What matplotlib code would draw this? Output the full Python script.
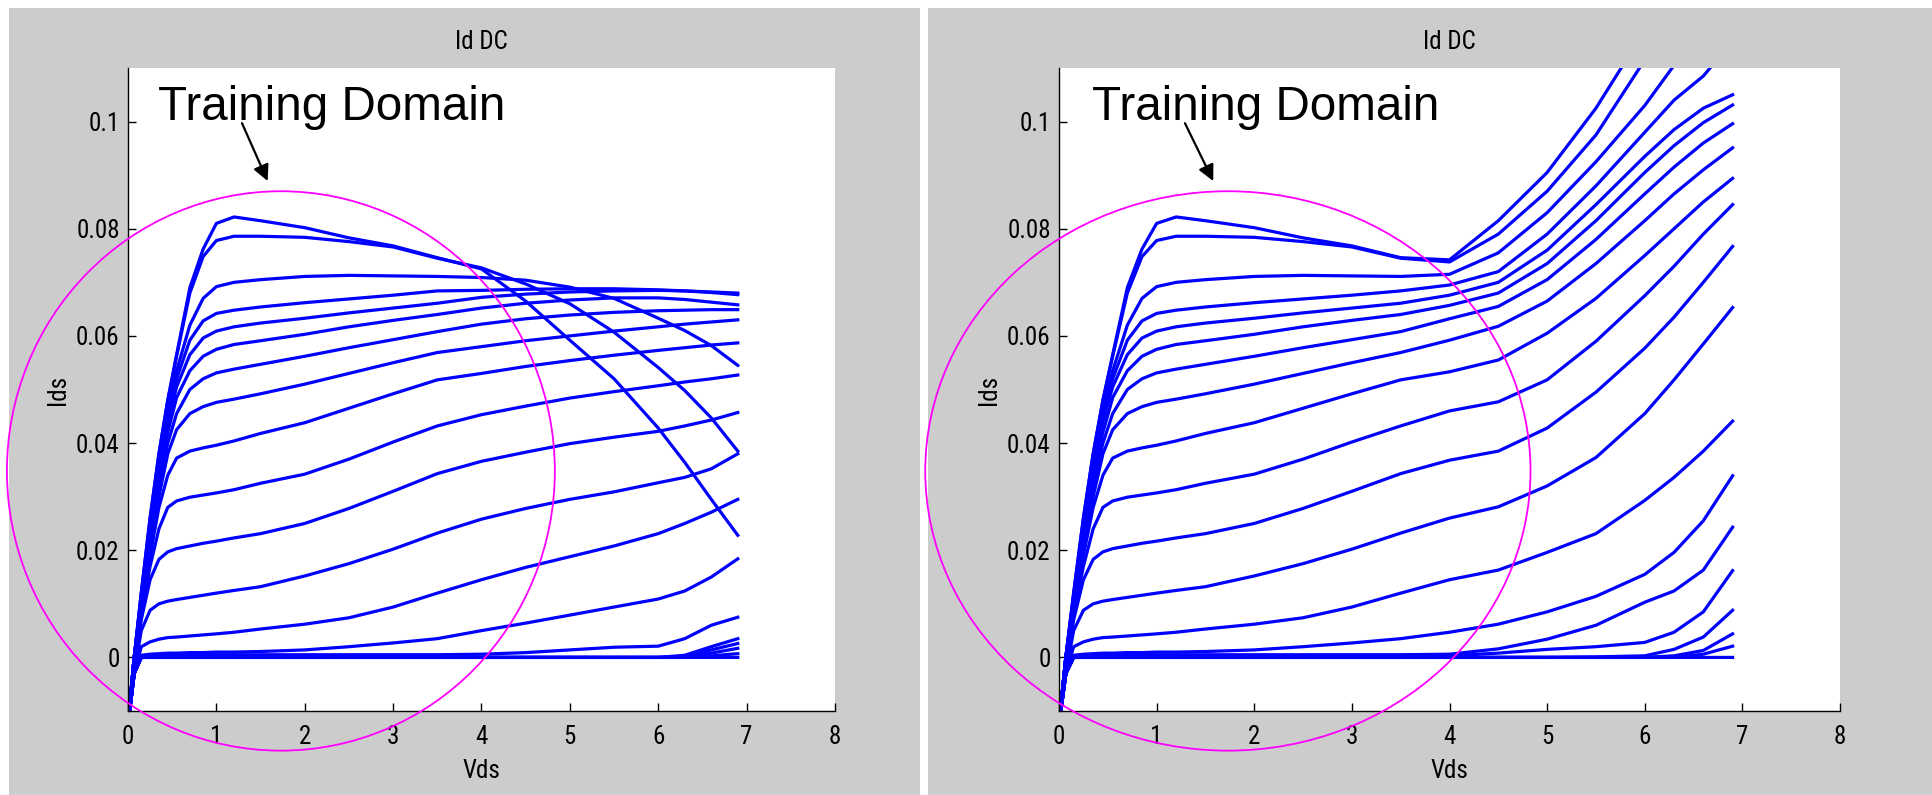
import matplotlib
matplotlib.use("Agg")
import numpy as np
import matplotlib.pyplot as plt
from matplotlib import font_manager
from matplotlib.patches import Ellipse, Rectangle

# Vds grid shared by both panels (below 3.5 V the two panels are the same)
vds_low = [0, 0.07, 0.15, 0.25, 0.35, 0.45, 0.55, 0.7, 0.85, 1.0, 1.2, 1.5, 2.0, 2.5, 3.0, 3.5]
vds_tail = [4.0, 4.5, 5.0, 5.5, 6.0, 6.3, 6.6, 6.9]

# Ids (A) of each Vgs curve on vds_low, highest curve first
ids_low = [
    [-0.0125, 0.0, 0.012, 0.026, 0.038, 0.048, 0.0565, 0.0690, 0.0762, 0.0810, 0.0822, 0.0815, 0.0802, 0.0783, 0.0768, 0.0746],
    [-0.0125, 0.0, 0.012, 0.026, 0.038, 0.048, 0.0562, 0.0680, 0.0748, 0.0778, 0.0786, 0.0786, 0.0784, 0.0776, 0.0766, 0.0745],
    [-0.0125, 0.0, 0.0115, 0.025, 0.037, 0.046, 0.0535, 0.0620, 0.0670, 0.0692, 0.0700, 0.0705, 0.0711, 0.0713, 0.0712, 0.0711],
    [-0.0125, 0.0, 0.011, 0.024, 0.036, 0.045, 0.0520, 0.0592, 0.0628, 0.0642, 0.0648, 0.0654, 0.0662, 0.0669, 0.0676, 0.0684],
    [-0.0125, 0.0, 0.0105, 0.023, 0.035, 0.044, 0.0505, 0.0565, 0.0596, 0.0609, 0.0617, 0.0624, 0.0633, 0.0643, 0.0652, 0.0661],
    [-0.0125, 0.0, 0.010, 0.022, 0.034, 0.042, 0.0485, 0.0535, 0.0562, 0.0575, 0.0584, 0.0591, 0.0603, 0.0617, 0.0629, 0.0640],
    [-0.0125, 0.0, 0.0095, 0.021, 0.032, 0.040, 0.0455, 0.0500, 0.0520, 0.0531, 0.0538, 0.0547, 0.0562, 0.0578, 0.0593, 0.0608],
    [-0.0125, 0.0, 0.009, 0.020, 0.030, 0.038, 0.0425, 0.0455, 0.0468, 0.0476, 0.0482, 0.0492, 0.0510, 0.0530, 0.0550, 0.0569],
    [-0.0125, 0.0, 0.0085, 0.019, 0.028, 0.034, 0.0372, 0.0385, 0.0391, 0.0396, 0.0404, 0.0418, 0.0438, 0.0465, 0.0492, 0.0518],
    [-0.0125, 0.0, 0.008, 0.017, 0.024, 0.0280, 0.0292, 0.0299, 0.0303, 0.0307, 0.0313, 0.0325, 0.0342, 0.0370, 0.0402, 0.0432],
    [-0.0125, -0.003, 0.007, 0.0145, 0.0183, 0.0197, 0.0203, 0.0208, 0.0213, 0.0217, 0.0223, 0.0231, 0.0250, 0.0278, 0.0310, 0.0343],
    [-0.0125, -0.003, 0.005, 0.0088, 0.0100, 0.0105, 0.0108, 0.0112, 0.0116, 0.0120, 0.0125, 0.0132, 0.0152, 0.0175, 0.0202, 0.0232],
    [-0.0125, -0.003, 0.0020, 0.0029, 0.0034, 0.0037, 0.0038, 0.0040, 0.0042, 0.0044, 0.0047, 0.0053, 0.0062, 0.0074, 0.0094, 0.0120],
    [-0.0125, -0.003, 0.0004, 0.0006, 0.0007, 0.0008, 0.0008, 0.0009, 0.0009, 0.0010, 0.0010, 0.0011, 0.0014, 0.0020, 0.0027, 0.0035],
    [-0.0125, -0.003, 0.0002, 0.0003, 0.0004, 0.0004, 0.0004, 0.0004, 0.0005, 0.0005, 0.0005, 0.0005, 0.0005, 0.0005, 0.0005, 0.0005],
    [-0.0125, -0.003, 0, 0, 0, 0, 0, 0, 0, 0, 0, 0, 0, 0, 0, 0],
    [-0.0125, -0.003, 0, 0, 0, 0, 0, 0, 0, 0, 0, 0, 0, 0, 0, 0],
    [-0.0125, -0.003, 0, 0, 0, 0, 0, 0, 0, 0, 0, 0, 0, 0, 0, 0],
    [-0.0125, -0.003, 0, 0, 0, 0, 0, 0, 0, 0, 0, 0, 0, 0, 0, 0],
    [-0.0125, -0.003, 0, 0, 0, 0, 0, 0, 0, 0, 0, 0, 0, 0, 0, 0],
]

# left panel above 4 V (self-heating, curves bend down)
ids_tail_left = [
    [0.0725, 0.0665, 0.0592, 0.0520, 0.0428, 0.0364, 0.0295, 0.0228],
    [0.0727, 0.0697, 0.0660, 0.0607, 0.0541, 0.0498, 0.0447, 0.0385],
    [0.0709, 0.0704, 0.0691, 0.0670, 0.0633, 0.0610, 0.0582, 0.0545],
    [0.0685, 0.0687, 0.0688, 0.0688, 0.0686, 0.0684, 0.0682, 0.0680],
    [0.0672, 0.0678, 0.0682, 0.0684, 0.0685, 0.0684, 0.0681, 0.0677],
    [0.0652, 0.0661, 0.0667, 0.0671, 0.0671, 0.0668, 0.0663, 0.0658],
    [0.0622, 0.0632, 0.0639, 0.0644, 0.0647, 0.0648, 0.0649, 0.0649],
    [0.0580, 0.0591, 0.0600, 0.0609, 0.0617, 0.0622, 0.0626, 0.0630],
    [0.0530, 0.0543, 0.0554, 0.0564, 0.0573, 0.0578, 0.0583, 0.0587],
    [0.0453, 0.0469, 0.0484, 0.0496, 0.0507, 0.0514, 0.0520, 0.0527],
    [0.0366, 0.0383, 0.0399, 0.0411, 0.0422, 0.0432, 0.0443, 0.0457],
    [0.0258, 0.0278, 0.0295, 0.0309, 0.0326, 0.0336, 0.0352, 0.0380],
    [0.0145, 0.0168, 0.0188, 0.0208, 0.0231, 0.0250, 0.0271, 0.0295],
    [0.0050, 0.0064, 0.0079, 0.0094, 0.0109, 0.0124, 0.0150, 0.0184],
    [0.0006, 0.0009, 0.0014, 0.0019, 0.0021, 0.0035, 0.0060, 0.0075],
    [0, 0, 0, 0, 0, 0.0004, 0.0020, 0.0035],
    [0, 0, 0, 0, 0, 0.0002, 0.0014, 0.0026],
    [0, 0, 0, 0, 0, 0, 0.0008, 0.0017],
    [0, 0, 0, 0, 0, 0, 0.0003, 0.0007],
    [0, 0, 0, 0, 0, 0, 0, 0],
]

# right panel above 4 V (breakdown, curves turn up)
ids_tail_right = [
    [0.0742, 0.0815, 0.0905, 0.1025, 0.1170, 0.1260, 0.1350, 0.1440],
    [0.0738, 0.0790, 0.0870, 0.0975, 0.1115, 0.1200, 0.1290, 0.1380],
    [0.0715, 0.0755, 0.0830, 0.0925, 0.1030, 0.1105, 0.1190, 0.1280],
    [0.0695, 0.0720, 0.0790, 0.0880, 0.0980, 0.1040, 0.1085, 0.1150],
    [0.0676, 0.0700, 0.0760, 0.0845, 0.0935, 0.0985, 0.1025, 0.1050],
    [0.0657, 0.0680, 0.0735, 0.0815, 0.0905, 0.0955, 0.0998, 0.1031],
    [0.0632, 0.0655, 0.0705, 0.0780, 0.0865, 0.0915, 0.0960, 0.0996],
    [0.0592, 0.0618, 0.0665, 0.0735, 0.0815, 0.0865, 0.0910, 0.0951],
    [0.0533, 0.0555, 0.0605, 0.0670, 0.0750, 0.0800, 0.0850, 0.0894],
    [0.0460, 0.0477, 0.0518, 0.0590, 0.0675, 0.0730, 0.0790, 0.0845],
    [0.0368, 0.0385, 0.0428, 0.0495, 0.0577, 0.0635, 0.0700, 0.0767],
    [0.0260, 0.0281, 0.0320, 0.0373, 0.0455, 0.0518, 0.0585, 0.0653],
    [0.0145, 0.0163, 0.0196, 0.0231, 0.0293, 0.0336, 0.0385, 0.0441],
    [0.0047, 0.0062, 0.0085, 0.0114, 0.0155, 0.0196, 0.0255, 0.0339],
    [0.0006, 0.0016, 0.0034, 0.0060, 0.0103, 0.0124, 0.0163, 0.0243],
    [0.0003, 0.0008, 0.0015, 0.0020, 0.0028, 0.0047, 0.0085, 0.0162],
    [0, 0, 0, 0.0001, 0.0003, 0.0015, 0.0038, 0.0088],
    [0, 0, 0, 0, 0, 0.0003, 0.0013, 0.0044],
    [0, 0, 0, 0, 0, 0, 0.0006, 0.0021],
    [0, 0, 0, 0, 0, 0, 0, 0],
]

xticks = [0, 1, 2, 3, 4, 5, 6, 7, 8]
yticks = [0, 0.02, 0.04, 0.06, 0.08, 0.1]
ytick_labels = ["0", "0.02", "0.04", "0.06", "0.08", "0.1"]

# training domain ellipse (data coords): centre, width, height
domain_center = (1.73, 0.0348)
domain_w, domain_h = 6.2, 0.1044

W, H = 1933, 795

# MATLAB's axis font is a narrow sans; use a condensed face if one is installed
installed = {f.name for f in font_manager.fontManager.ttflist}
narrow = [n for n in ["Liberation Sans Narrow", "DejaVu Sans Condensed",
                      "Roboto Condensed", "Open Sans Condensed"] if n in installed]
small_font = narrow[:1] + ["Liberation Sans", "DejaVu Sans"]

fig = plt.figure(figsize=(W / 100, H / 100), dpi=100, facecolor="white")

# grey MATLAB figure backgrounds, kept behind the axes
for x0, x1 in [(9, 920), (928, 1933)]:
    fig.patches.append(Rectangle((x0 / W, 0), (x1 - x0) / W, (H - 8) / H,
                                 transform=fig.transFigure, facecolor="#cccccc",
                                 edgecolor="none", zorder=-10))

axes_px = [(128, 835), (1059, 1840)]
tails = [ids_tail_left, ids_tail_right]

for (x0, x1), tail in zip(axes_px, tails):
    ax = fig.add_axes([x0 / W, (H - 711) / H, (x1 - x0) / W, 643 / H])
    ax.set_facecolor("white")
    for low, hi in zip(ids_low, tail):
        ax.plot(vds_low + vds_tail, low + hi, color="#0000ff", lw=2.3,
                solid_joinstyle="round")
    ax.set_xlim(0, 8)
    ax.set_ylim(-0.01, 0.11)
    ax.set_xticks(xticks)
    ax.set_yticks(yticks)
    ax.set_yticklabels(ytick_labels)
    for lab in ax.get_xticklabels() + ax.get_yticklabels():
        lab.set_family(small_font)
    ax.tick_params(direction="in", length=6, width=1, labelsize=18)
    ax.tick_params(axis="x", pad=10)
    ax.tick_params(axis="y", pad=6)
    ax.spines["top"].set_visible(False)
    ax.spines["right"].set_visible(False)
    ax.spines["left"].set_linewidth(1)
    ax.spines["bottom"].set_linewidth(1)
    ax.set_title("Id DC", fontsize=18, family=small_font, pad=14)
    ax.set_xlabel("Vds", fontsize=18, family=small_font, labelpad=7)
    ax.set_ylabel("Ids", fontsize=18, family=small_font, labelpad=4)

    ax.add_patch(Ellipse(domain_center, domain_w, domain_h, fill=False,
                         edgecolor="#ff00ff", lw=1.3, clip_on=False, zorder=5))
    ax.text(0.335, 0.1003, "Training Domain", fontsize=34.3,
            family="Liberation Sans", va="baseline", ha="left", zorder=6)
    ax.annotate("", xy=(1.58, 0.0889), xytext=(1.29, 0.0997),
                arrowprops=dict(arrowstyle="-|>", color="black", lw=1.6,
                                mutation_scale=24, shrinkA=0, shrinkB=0),
                zorder=6)

fig.savefig("out.png", dpi=100, facecolor="white")
